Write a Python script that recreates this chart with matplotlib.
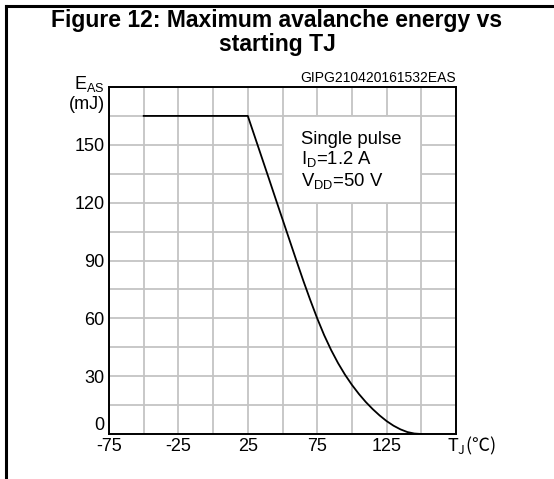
import numpy as np
import matplotlib.pyplot as plt
from matplotlib.lines import Line2D
from matplotlib.patches import Rectangle

plt.rcParams['font.family'] = ['Liberation Sans', 'DejaVu Sans']
plt.rcParams['axes.unicode_minus'] = False

# values
tj = [-50, 25, 30, 35, 40, 45, 50, 55, 60, 65, 70, 75, 80, 85, 90, 95, 100,
      105, 110, 115, 120, 125, 130, 135, 140, 145, 150]
eas = [165, 165, 154.3, 143.6, 132.9, 122.1, 111.4, 100.7, 90, 79.5, 69.5,
       60, 51.3, 43.6, 36.8, 30.8, 25.5, 20.8, 16.6, 12.9, 9.6, 6.7, 4.3, 2.4,
       1.0, 0.25, 0]

x_labels = [-75, -25, 25, 75, 125]
y_labels = [0, 30, 60, 90, 120, 150]

fig = plt.figure(figsize=(5.54, 4.79), dpi=100)
ax = fig.add_axes([109 / 554, 45 / 479, 347 / 554, 347 / 479])

ax.set_xlim(-75, 175)
ax.set_ylim(0, 180)
ax.set_xticks(x_labels)
ax.set_xticks(np.arange(-75, 176, 25), minor=True)
ax.set_yticks(y_labels)
ax.set_yticks(np.arange(0, 181, 15), minor=True)
ax.grid(which='both', color='#c4c4c4', lw=1.3)
ax.set_axisbelow(True)
ax.tick_params(which='both', length=0, labelsize=13, pad=3)
ax.get_yticklabels()[0].set_va('bottom')
for s in ax.spines.values():
    s.set_linewidth(1.4)
    s.set_zorder(5)

# white box for conditions
ax.add_patch(Rectangle((50, 120), 100, 45, facecolor='white', edgecolor='#c4c4c4',
                       lw=1.3, zorder=2))
ax.text(63, 150.5, 'Single pulse', fontsize=13.3, va='baseline', zorder=3)
ax.text(63, 140, r'I$_\mathregular{D}$=1.2 A', fontsize=13.3, va='baseline', zorder=3)
ax.text(63, 128.8, r'V$_\mathregular{DD}$=50 V', fontsize=13.3, va='baseline', zorder=3)

ax.plot(tj, eas, color='black', lw=1.3, zorder=4)

ax.text(1.0, 1.005, 'GIPG210420161532EAS', transform=ax.transAxes, ha='right',
        va='bottom', fontsize=10)
ax.text(-0.012, 1.01, r'E$_\mathregular{AS}$', transform=ax.transAxes, ha='right',
        va='center', fontsize=13)
ax.text(-0.012, 0.95, '(mJ)', transform=ax.transAxes, ha='right', va='center',
        fontsize=13)
ax.text(0.975, -0.034, r'T$_\mathregular{J}$(℃)', transform=ax.transAxes, ha='left',
        va='center', fontsize=13, family=['Noto Sans CJK JP', 'DejaVu Sans'])

fig.text(0.5, 0.932, 'Figure 12: Maximum avalanche energy vs\nstarting TJ',
         ha='center', va='center', fontsize=16.5, fontweight='bold', linespacing=1.1)

# outer frame
fig.add_artist(Line2D([6 / 554, 1], [1 - 5.5 / 479] * 2, color='black', lw=2.2))
fig.add_artist(Line2D([6 / 554] * 2, [0, 1 - 5.5 / 479], color='black', lw=2.2))

fig.savefig('out.png', dpi=100)
